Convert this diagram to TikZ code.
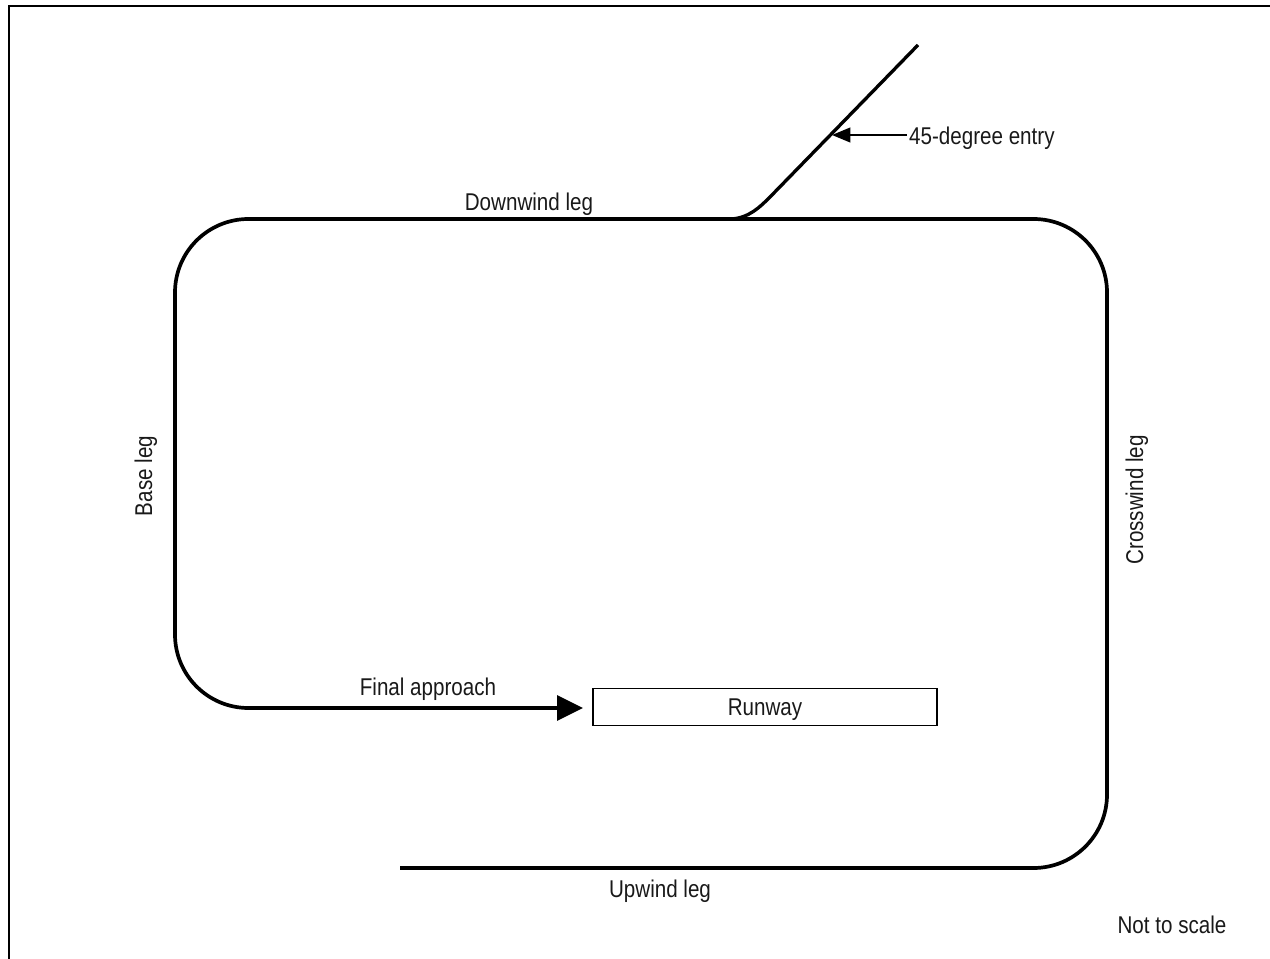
\documentclass[tikz,border=0pt]{standalone}
\usepackage{fontspec}
\setmainfont{Liberation Sans}[FakeStretch=0.85]
\usetikzlibrary{arrows.meta}
\begin{document}
\begin{tikzpicture}[x=0.02cm,y=-0.02cm,
  lbl/.style={font=\fontsize{13.8pt}{16pt}\selectfont, inner sep=1pt, text=black!90},
  circuit/.style={line width=2.1pt, rounded corners=1.47cm, line join=round},
  entryline/.style={line width=1.9pt},
  runwaybox/.style={draw, line width=1pt, minimum width=6.88cm, minimum height=0.74cm, inner sep=0pt, text depth=0pt, text=black!90, font=\fontsize{13.8pt}{16pt}\selectfont},
  frameline/.style={line width=0.9pt}]
\useasboundingbox (0,0) rectangle (1270,959);
% frame
\coordinate (fbl) at (9,959);
\coordinate (ftl) at (9,6);
\coordinate (ftr) at (1270,6);
\draw[frameline] (fbl) -- (ftl) -- (ftr);
% runway
\node[runwaybox] (runway) at (765,707) {Runway};
% circuit corners
\coordinate (upstart) at (400,868);
\coordinate (cbr) at (1107,868);
\coordinate (ctr) at (1107,219);
\coordinate (ctl) at (175,219);
\coordinate (cbl) at (175,708);
\coordinate (fend) at (583,708);
\draw[circuit, -{Triangle[length=14.7pt,width=14pt]}] (upstart) -- (cbr) -- (ctr) -- (ctl) -- (cbl) -- (fend);
% 45-degree entry
\coordinate (etop) at (918,45);
\coordinate (ekink) at (770,197);
\coordinate (ejoin) at (731,219);
\draw[entryline] (etop) -- (ekink) .. controls (760,207) and (749,218) .. (ejoin);
\coordinate (entrypt) at (832,135);
\node[lbl, anchor=base west] (elabel) at (907,145) {45-degree entry};
\draw[line width=0.8pt, -{Triangle[length=10.5pt,width=8.5pt]}] (elabel.west |- entrypt) -- (entrypt);
% labels
\node[lbl, anchor=base] (downwind) at (529,211) {Downwind leg};
\node[lbl, anchor=base] (final) at (428,695) {Final approach};
\node[lbl, anchor=base] (upwind) at (660,897) {Upwind leg};
\node[lbl, anchor=base] (notscale) at (1172,933) {Not to scale};
\node[lbl, anchor=base, rotate=90] (base) at (152,476) {Base leg};
\node[lbl, anchor=base, rotate=90] (crosswind) at (1143,500) {Crosswind leg};
\end{tikzpicture}
\end{document}
